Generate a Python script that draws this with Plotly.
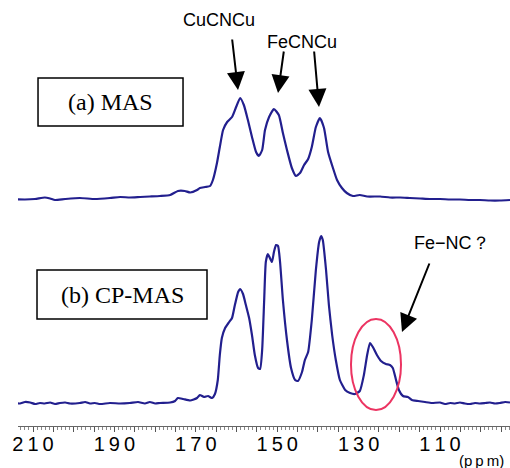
import plotly.graph_objects as go

# ---- data ----
# (a) MAS spectrum: chemical shift (ppm) and relative intensity
mas_ppm = [214.2, 212.0, 209.5, 207.1, 205.8, 204.6, 202.1, 198.5, 194.8, 191.1, 188.6,
           186.2, 183.7, 181.3, 178.8, 176.3, 174.4, 172.7, 171.4, 169.7, 169.0, 167.7,
           166.5, 165.8, 164.8, 164.1, 163.3, 162.3, 161.1, 160.1, 159.1, 158.2, 157.2,
           156.2, 155.2, 154.5, 153.7, 153.0, 152.0, 150.8, 149.6, 148.6, 147.6, 146.4,
           145.4, 144.4, 143.4, 142.4, 141.5, 140.5, 139.5, 138.5, 137.5, 136.3, 135.3,
           134.1, 132.9, 131.4, 129.7, 127.9, 124.7, 122.3, 119.8, 117.4, 114.9, 112.5,
           110.0, 107.5, 105.1, 102.6, 100.2, 97.7, 95.3, 92.8]
mas_int = [-0.3, -0.5, 0, 1.5, 0.5, -1, 0, 1, 0, 1, 2,
           1.5, 2, 2.5, 3, 4, 8, 8, 6.5, 9, 11, 12,
           13, 19, 36, 52, 69, 77, 82, 92, 101, 94, 79,
           62, 47, 43, 49, 69, 82, 90, 84, 66, 49, 31,
           23, 26, 34, 40, 52, 72, 81, 71, 47, 31, 19,
           11, 6, 3, 4, 2.5, 2.5, 1.5, 1.5, 1, 0.5, 0,
           0, -0.5, -0.5, -1, -1, -1.5, -1.5, -1]

# (b) CP-MAS spectrum
cp_ppm = [214.2, 213.2, 212.0, 210.7, 209.5, 208.3, 207.1, 205.8, 204.6, 203.4, 202.1,
          200.9, 198.5, 197.2, 196.0, 194.8, 193.5, 191.1, 188.6, 186.2, 184.2, 182.5,
          181.3, 180.0, 178.8, 176.3, 175.1, 174.4, 173.1, 171.4, 169.7, 169.0, 168.0,
          167.0, 166.0, 165.3, 164.6, 164.1, 163.6, 162.8, 161.8, 161.1, 160.4, 159.6,
          159.1, 158.4, 157.7, 156.9, 156.2, 155.5, 154.7, 154.2, 153.7, 153.2, 152.8,
          152.3, 151.8, 151.3, 150.8, 150.3, 149.8, 149.3, 148.6, 147.6, 146.6, 145.6,
          144.9, 143.9, 143.2, 142.4, 141.5, 140.5, 139.7, 139.2, 138.8, 138.0, 137.3,
          136.5, 135.6, 134.6, 133.3, 132.1, 130.9, 129.7, 128.7, 127.9, 127.2, 126.5,
          125.5, 124.5, 123.3, 122.3, 121.6, 120.8, 120.1, 119.1, 117.9, 116.9, 115.4,
          113.7, 112.0, 110.0, 108.8, 107.5, 106.3, 105.1, 103.9, 102.6, 101.4, 100.2,
          98.9, 97.7, 96.5, 95.3, 94.0, 92.8]
cp_int = [0, -0.5, 1, 0.5, -1, 0, -0.5, 0.5, -1, 0, 0.5,
          -0.5, 0, 1, -0.5, 0, -1, 0, -0.5, 0, 1, -0.5,
          1, -0.5, 0, 0.5, 2, 5, 4, 2.5, 5, 8, 6,
          7, 5, 9, 23, 48, 65, 75, 81, 85, 98, 111,
          114, 109, 98, 85, 68, 48, 35, 34, 53, 103, 141,
          149, 145, 141, 151, 158, 157, 141, 103, 63, 35, 23,
          22, 31, 43, 51, 83, 133, 161, 167, 163, 133, 98,
          68, 43, 23, 13, 10, 9, 12, 28, 48, 60, 56,
          48, 42, 39, 38, 35, 23, 13, 7, 6, 3, 2,
          1, 0, 0.5, -1, 0, -0.5, 0.5, -0.5, -1, 0, -0.5,
          0, 0.5, -0.5, 0, 1, 0.5]

tick_values = [210, 190, 170, 150, 130, 110]
tick_labels = ["2\u20091\u20090", "1\u20099\u20090", "1\u20097\u20090",
               "1\u20095\u20090", "1\u20093\u20090", "1\u20091\u20090"]

panel_labels = ["(a) MAS", "(b) CP-MAS"]
peak_labels = ["CuCNCu", "FeCNCu", "Fe−NC？"]
unit_label = "(p\u2009p\u2009m)"

# ---- layout constants ----
MAS_OFFSET = 227
CP_OFFSET = 23
LINE_COLOR = "#221f8e"

fig = go.Figure()
fig.add_trace(go.Scatter(x=mas_ppm, y=[v + MAS_OFFSET for v in mas_int], mode="lines",
                         line=dict(color=LINE_COLOR, width=2.2, shape="spline", smoothing=0.5),
                         hoverinfo="skip", showlegend=False))
fig.add_trace(go.Scatter(x=cp_ppm, y=[v + CP_OFFSET for v in cp_int], mode="lines",
                         line=dict(color=LINE_COLOR, width=2.2, shape="spline", smoothing=0.5),
                         hoverinfo="skip", showlegend=False))

# ticks every 5 ppm, labels every 20 ppm
major = list(range(95, 215, 5))
major_text = [tick_labels[tick_values.index(v)] if v in tick_values else "" for v in major]

fig.update_layout(
    width=510, height=468,
    margin=dict(l=18, r=0, t=0, b=42),
    paper_bgcolor="white", plot_bgcolor="white",
    xaxis=dict(range=[213.69, 92.8], showgrid=False, zeroline=False,
               showline=True, linecolor="#666666", linewidth=1,
               ticks="outside", ticklen=5, tickcolor="#555555", tickwidth=1,
               tickvals=major, ticktext=major_text, ticklabelstandoff=-5,
               tickfont=dict(family="Liberation Sans, Arial", size=20, color="black"),
               minor=dict(ticks="outside", ticklen=3, dtick=1, tickcolor="#888888", tickwidth=1),
               fixedrange=True),
    yaxis=dict(range=[0, 426], visible=False, fixedrange=True),
    font=dict(family="Liberation Sans, Arial", color="black"),
)

# panel label boxes
fig.add_shape(type="rect", xref="x", yref="y", x0=208.77, x1=173.14, y0=300, y1=348,
              line=dict(color="black", width=1.5), fillcolor="rgba(0,0,0,0)")
fig.add_shape(type="rect", xref="x", yref="y", x0=209.02, x1=167.25, y0=107, y1=156,
              line=dict(color="black", width=1.5), fillcolor="rgba(0,0,0,0)")
fig.add_annotation(x=190.95, y=324, xref="x", yref="y", text=panel_labels[0], showarrow=False,
                   font=dict(family="Liberation Serif, Times New Roman", size=24, color="black"))
fig.add_annotation(x=188.1, y=131.5, xref="x", yref="y", text=panel_labels[1], showarrow=False,
                   font=dict(family="Liberation Serif, Times New Roman", size=24, color="black"))

# red ellipse
fig.add_shape(type="circle", xref="x", yref="y", x0=131.87, x1=119.58, y0=16, y1=107,
              line=dict(color="#ec3462", width=2))

# peak labels and arrows
lbl_font = dict(family="Liberation Sans, Arial", size=18, color="black")
fig.add_annotation(x=164.3, y=406, xref="x", yref="y", text=peak_labels[0], showarrow=False, font=lbl_font)
fig.add_annotation(x=143.9, y=384, xref="x", yref="y", text=peak_labels[1], showarrow=False, font=lbl_font)
fig.add_annotation(x=107.0, y=183, xref="x", yref="y", text=peak_labels[2], showarrow=False, font=lbl_font)

arrows = [((159.63, 336), (161.11, 388)),
          ((149.80, 333), (148.33, 376)),
          ((139.73, 319), (140.96, 376)),
          ((119.34, 94), (112.46, 164))]
for (tx, ty), (sx, sy) in arrows:
    fig.add_annotation(x=tx, y=ty, ax=sx, ay=sy, xref="x", yref="y", axref="x", ayref="y",
                       text="", showarrow=True, arrowhead=2, arrowsize=1.8, arrowwidth=2,
                       arrowcolor="black")

# unit label
fig.add_annotation(x=99.9, y=-34 / 426, xref="x", yref="paper", yanchor="middle",
                   text=unit_label, showarrow=False,
                   font=dict(family="Liberation Sans, Arial", size=15, color="black"))

fig.write_html("out.html")
